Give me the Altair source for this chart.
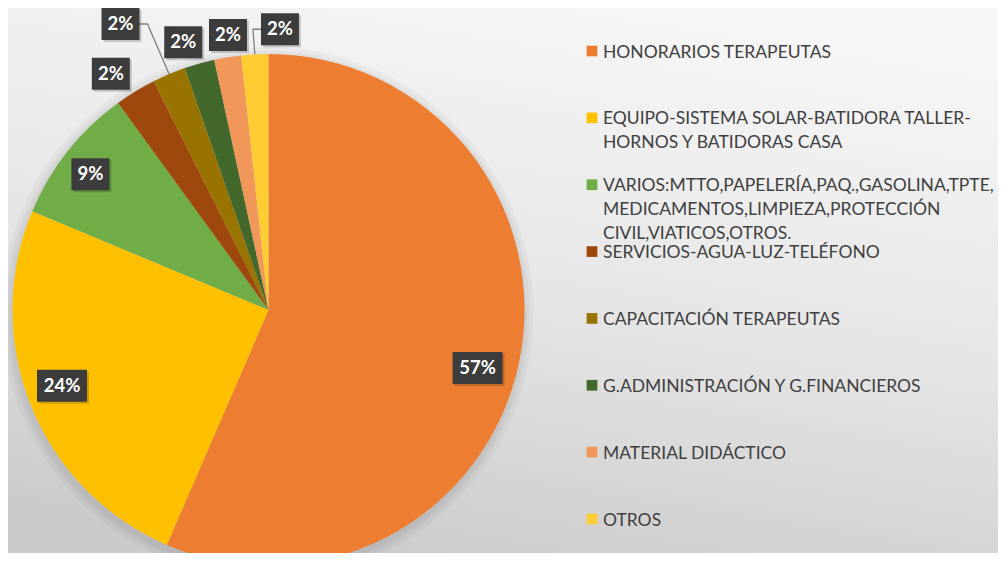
import altair as alt
import pandas as pd
import numpy as np

# ---------------- data ----------------
categories = [
    "HONORARIOS TERAPEUTAS",
    "EQUIPO-SISTEMA SOLAR-BATIDORA TALLER-HORNOS Y BATIDORAS CASA",
    "VARIOS:MTTO,PAPELERÍA,PAQ.,GASOLINA,TPTE,MEDICAMENTOS,LIMPIEZA,PROTECCIÓN CIVIL,VIATICOS,OTROS.",
    "SERVICIOS-AGUA-LUZ-TELÉFONO",
    "CAPACITACIÓN TERAPEUTAS",
    "G.ADMINISTRACIÓN Y G.FINANCIEROS",
    "MATERIAL DIDÁCTICO",
    "OTROS",
]
legend_text = [
    "HONORARIOS TERAPEUTAS",
    "EQUIPO-SISTEMA SOLAR-BATIDORA TALLER-\nHORNOS Y BATIDORAS CASA",
    "VARIOS:MTTO,PAPELERÍA,PAQ.,GASOLINA,TPTE,\nMEDICAMENTOS,LIMPIEZA,PROTECCIÓN\nCIVIL,VIATICOS,OTROS.",
    "SERVICIOS-AGUA-LUZ-TELÉFONO",
    "CAPACITACIÓN TERAPEUTAS",
    "G.ADMINISTRACIÓN Y G.FINANCIEROS",
    "MATERIAL DIDÁCTICO",
    "OTROS",
]
values = [56.5, 24.8, 8.7, 2.6, 2.1, 1.9, 1.7, 1.7]
pct_labels = ["57%", "24%", "9%", "2%", "2%", "2%", "2%", "2%"]

# ---------------- style / layout ----------------
colors = ["#ED7D31", "#FFC000", "#70AD47", "#9E480E", "#997300", "#43682B", "#F1975A", "#FFCD33"]
W, H = 990, 545
CX, CY, R = 260.5, 302, 256
label_radius = [217, 220, 224, 284, 322, 281, 278, 281]
label_shift_deg = [3.8, 1.8, -1.0, -2.4, -4.5, -2.0, 0.8, 5.4]
leader_side = [0, 0, 0, 0, 1, 0, 0, -1]
legend_top, legend_bottom = 43, 511
FONT = "Lato"

# ---------------- derived tables ----------------
df = pd.DataFrame({
    "idx": range(len(categories)),
    "cat": categories,
    "legend_text": legend_text,
    "value": values,
    "pct": pct_labels,
})
tot = df["value"].sum()
cum = df["value"].cumsum()
mid_deg = (cum - df["value"] / 2) / tot * 360
lab_rad = np.radians(mid_deg + np.array(label_shift_deg))
rr = np.array(label_radius)
df["lx"] = CX + rr * np.sin(lab_rad)
df["ly"] = CY - rr * np.cos(lab_rad)
hw = (14 + 12 * df["pct"].str.len()) / 2
df["x0"] = df["lx"] - hw
df["x1"] = df["lx"] + hw
df["y0"] = df["ly"] - 16
df["y1"] = df["ly"] + 16
df["sx0"] = df["x0"] + 2
df["sx1"] = df["x1"] + 2
df["sy0"] = df["y0"] + 2
df["sy1"] = df["y1"] + 2

rows = []
for i, side in enumerate(leader_side):
    if side == 0:
        continue
    m = np.radians(mid_deg[i])
    edge = df["lx"][i] + side * hw[i]
    pts = [
        (CX + R * np.sin(m), CY - R * np.cos(m)),
        (edge + side * 8, df["ly"][i]),
        (edge, df["ly"][i]),
    ]
    for o, (px, py) in enumerate(pts):
        rows.append({"idx": i, "o": o, "px": px, "py": py})
lead = pd.DataFrame(rows)

color_scale = alt.Scale(domain=categories, range=colors)
one = pd.DataFrame({"a": [0]})

bg = alt.Chart(one).mark_rect(
    fill=alt.LinearGradient(
        gradient="linear",
        stops=[alt.GradientStop(offset=0, color="#f6f6f6"),
               alt.GradientStop(offset=0.5, color="#e6e6e6"),
               alt.GradientStop(offset=1, color="#cbcbcb")],
        x1=0.6, y1=0, x2=0.3, y2=1,
    )
).encode(x=alt.value(0), x2=alt.value(W), y=alt.value(0), y2=alt.value(H))

shadows = [
    alt.Chart(one).mark_arc(
        radius=R + dr, theta=0, theta2=2 * np.pi, color="#000000", opacity=0.03, clip=True
    ).encode(x=alt.value(CX - 1), y=alt.value(CY + 3))
    for dr in (10, 6, 3)
]

pie = alt.Chart(df).mark_arc(radius=R, clip=True).encode(
    theta=alt.Theta("value:Q", stack=True),
    color=alt.Color("cat:N", scale=color_scale, legend=None),
    order=alt.Order("idx:Q", sort="ascending"),
    x=alt.value(CX),
    y=alt.value(CY),
)

leaders = alt.Chart(lead).mark_line(color="#808080", strokeWidth=1.3).encode(
    x=alt.X("px:Q", scale=None),
    y=alt.Y("py:Q", scale=None),
    detail="idx:N",
    order="o:Q",
)

box_shadow = alt.Chart(df).mark_rect(color="#000000", opacity=0.18).encode(
    x=alt.X("sx0:Q", scale=None), x2="sx1:Q",
    y=alt.Y("sy0:Q", scale=None), y2="sy1:Q",
)
boxes = alt.Chart(df).mark_rect(color="#3c3c3c").encode(
    x=alt.X("x0:Q", scale=None), x2="x1:Q",
    y=alt.Y("y0:Q", scale=None), y2="y1:Q",
)
pct_text = alt.Chart(df).mark_text(
    font=FONT, fontWeight="bold", fontSize=18.5, color="white",
    align="center", baseline="middle",
).encode(
    x=alt.X("lx:Q", scale=None),
    y=alt.Y("ly:Q", scale=None),
    text="pct:N",
)

leg_y = alt.Y("cat:N", scale=alt.Scale(domain=categories, range=[legend_top, legend_bottom], padding=0), axis=None)
leg_marks = alt.Chart(df).mark_square(size=115, opacity=1).encode(
    x=alt.value(584),
    y=leg_y,
    color=alt.Color("cat:N", scale=color_scale, legend=None),
)
leg_text = alt.Chart(df).mark_text(
    font=FONT, fontSize=17.5, color="#404040", align="left", baseline="alphabetic",
    dy=6.5, lineBreak="\n", lineHeight=24,
).encode(
    x=alt.value(595),
    y=leg_y,
    text="legend_text:N",
)

chart = alt.layer(
    bg, *shadows, pie, leaders, box_shadow, boxes, pct_text, leg_marks, leg_text
).resolve_scale(y="independent", x="independent").properties(
    width=W, height=H, padding=0,
    autosize=alt.AutoSizeParams(type="none"),
).configure_view(stroke=None)

chart.save("out.html", embed_options={"renderer": "svg", "actions": False})
